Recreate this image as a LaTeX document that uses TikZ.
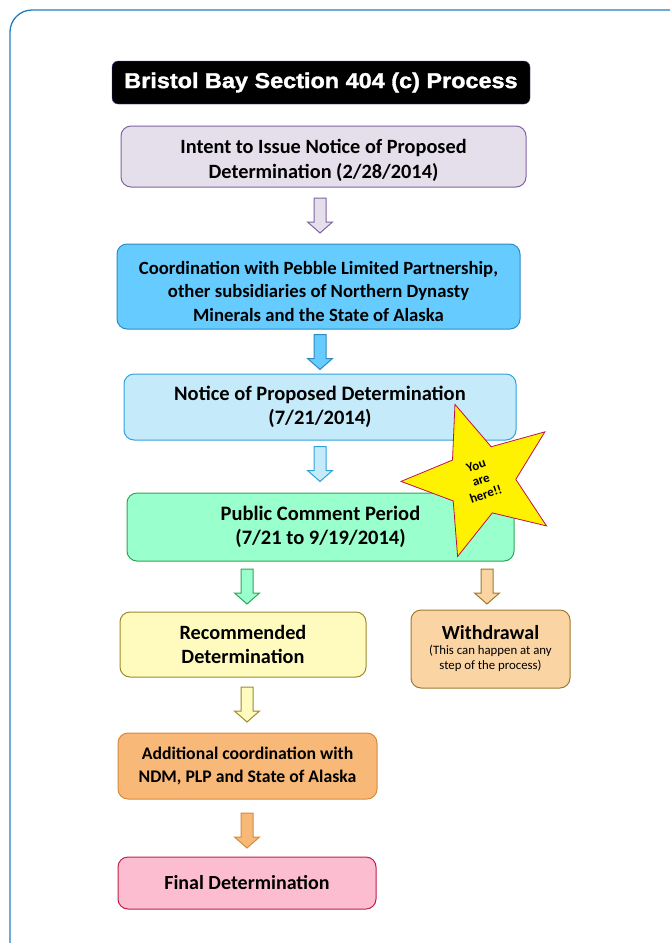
\documentclass[tikz,border=0pt]{standalone}
\usepackage{fontspec}
\setmainfont{Carlito}
\newfontfamily\titlefont[FakeBold=1.5, FakeStretch=1.09]{Liberation Sans}
\usetikzlibrary{shapes.geometric}

\definecolor{frameblue}{HTML}{1F7FC0}
\definecolor{purpfill}{HTML}{E5DFEC}
\definecolor{purpline}{HTML}{8064A2}
\definecolor{bluefill}{HTML}{66CCFF}
\definecolor{blueline}{HTML}{2E8BC0}
\definecolor{skyfill}{HTML}{C5EBFB}
\definecolor{skyline}{HTML}{2EA3DA}
\definecolor{greenfill}{HTML}{99FFCC}
\definecolor{greenline}{HTML}{2EA659}
\definecolor{yelfill}{HTML}{FFFBBF}
\definecolor{yelline}{HTML}{9C8A2B}
\definecolor{tanfill}{HTML}{FBD4A4}
\definecolor{tanline}{HTML}{9C7B2C}
\definecolor{orfill}{HTML}{F8B878}
\definecolor{orline}{HTML}{D68A3A}
\definecolor{pinkfill}{HTML}{FBBDCF}
\definecolor{pinkline}{HTML}{C0204B}
\definecolor{starline}{HTML}{C0104F}

\tikzset{
  stepbox/.style={draw, line width=1pt, rounded corners=10pt, align=center, inner sep=0pt},
  blockarr/.pic={
    \path[line width=1pt, pic actions] (-6,0) -- (-6,24) -- (-12.5,24) -- (0,35)
      -- (12.5,24) -- (6,24) -- (6,0) -- cycle;
  },
}

\begin{document}
\begin{tikzpicture}[x=1pt, y=-1pt]
\useasboundingbox (0,0) rectangle (670,943);
\clip (0,0) rectangle (670,943);
\draw[frameblue, line width=1.3pt, rounded corners=22pt] (10,10) rectangle (700,990);

% title
\node[fill=black, draw=blue!40!gray, rounded corners=6pt, minimum width=418pt, minimum height=43pt,
  text=white, font=\titlefont\bfseries\fontsize{21.5}{24}\selectfont] (title) at (321,82.5)
  {Bristol Bay Section 404 (c) Process};

% main steps
\node[stepbox, fill=purpfill, draw=purpline, minimum width=405pt, minimum height=61pt,
  font=\bfseries\fontsize{20.3}{25}\selectfont] (intent) at (323.5,156.5)
  {\rule{0pt}{23pt}Intent to Issue Notice of Proposed\\Determination (2/28/2014)};
\node[stepbox, fill=bluefill, draw=blueline, minimum width=403pt, minimum height=85pt,
  font=\bfseries\fontsize{18.7}{23.5}\selectfont] (coord) at (318.5,286.5)
  {\rule{0pt}{23pt}Coordination with Pebble Limited Partnership,\\other subsidiaries of Northern Dynasty\\Minerals and the State of Alaska};
\node[stepbox, fill=skyfill, draw=skyline, minimum width=392pt, minimum height=66pt,
  font=\bfseries\fontsize{20.5}{24.5}\selectfont] (notice) at (320,407)
  {Notice of Proposed Determination\\(7/21/2014)};
\node[stepbox, fill=greenfill, draw=greenline, minimum width=387pt, minimum height=68pt,
  font=\bfseries\fontsize{20.5}{24.5}\selectfont] (public) at (320.5,527)
  {Public Comment Period\\(7/21 to 9/19/2014)};
\node[stepbox, fill=yelfill, draw=yelline, minimum width=246pt, minimum height=65pt,
  font=\bfseries\fontsize{20.3}{24.5}\selectfont] (recom) at (243,644.5)
  {Recommended\\Determination};
\node[stepbox, fill=tanfill, draw=tanline, minimum width=159pt, minimum height=78pt,
  font=\fontsize{12.8}{15.5}\selectfont] (withdr) at (490.5,649)
  {{\bfseries\fontsize{20}{24}\selectfont Withdrawal}\\[-1pt]
   (This can happen at any\\step of the process)};
\node[stepbox, fill=orfill, draw=orline, minimum width=259pt, minimum height=66pt,
  font=\bfseries\fontsize{17.7}{22.5}\selectfont] (addl) at (247.5,766)
  {Additional coordination with\\NDM, PLP and State of Alaska};
\node[stepbox, fill=pinkfill, draw=pinkline, minimum width=258pt, minimum height=52pt,
  font=\bfseries\fontsize{20}{24}\selectfont] (final) at (247,883)
  {Final Determination};

% block arrows
\pic[fill=purpfill, draw=purpline] (a1) at (320,198) {blockarr};
\pic[fill=bluefill, draw=blueline] (a2) at (320,334.5) {blockarr};
\pic[fill=skyfill, draw=skyline] (a3) at (320,446.5) {blockarr};
\pic[fill=greenfill, draw=greenline] (a4) at (247,569) {blockarr};
\pic[fill=tanfill, draw=tanline] (a5) at (487,569) {blockarr};
\pic[fill=yelfill, draw=yelline] (a6) at (247,687) {blockarr};
\pic[fill=orfill, draw=orline] (a7) at (247,813) {blockarr};

% star
\node[star, star points=5, star point ratio=2.3, minimum size=160pt, rotate=19, inner sep=0pt,
  fill=yellow, draw=starline, line width=0.8pt, align=center,
  font=\bfseries\fontsize{13}{15}\selectfont] (here) at (481,480)
  {You\\are\\here!!};
\end{tikzpicture}
\end{document}
